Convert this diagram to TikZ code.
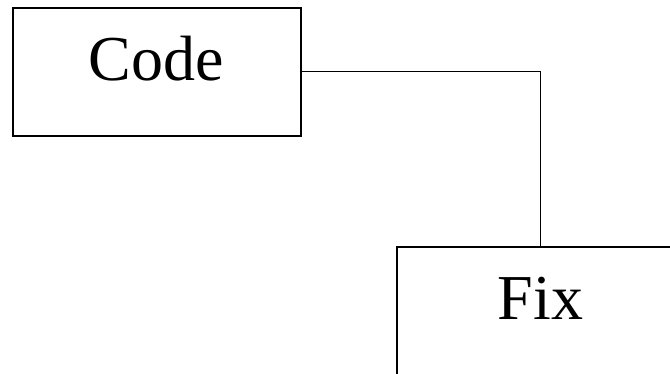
\documentclass[tikz,border=0pt]{standalone}
\usepackage{fontspec}
\setmainfont{Liberation Serif}
\begin{document}
\begin{tikzpicture}[x=1pt,y=-1pt,
  box/.style={draw=black,line width=2pt,minimum width=288.5pt,minimum height=128pt,inner sep=0pt,outer sep=0pt},
  lbl/.style={font=\fontsize{64}{70}\selectfont,inner sep=0pt,anchor=base},
  wire/.style={draw=black,line width=1.3pt}]
\useasboundingbox (0,0) rectangle (670,373);
\clip (0,0) rectangle (670,373);
\node[box,anchor=north west] (code) at (12.5,7.5) {};
\node[box,anchor=north west] (fix) at (396.5,247) {};
\node[lbl] (codet) at (156.5,80) {Code};
\node[lbl] (fixt) at (540.5,319) {Fix};
\draw[wire] (code.east) -| (fix.north);
\end{tikzpicture}
\end{document}
